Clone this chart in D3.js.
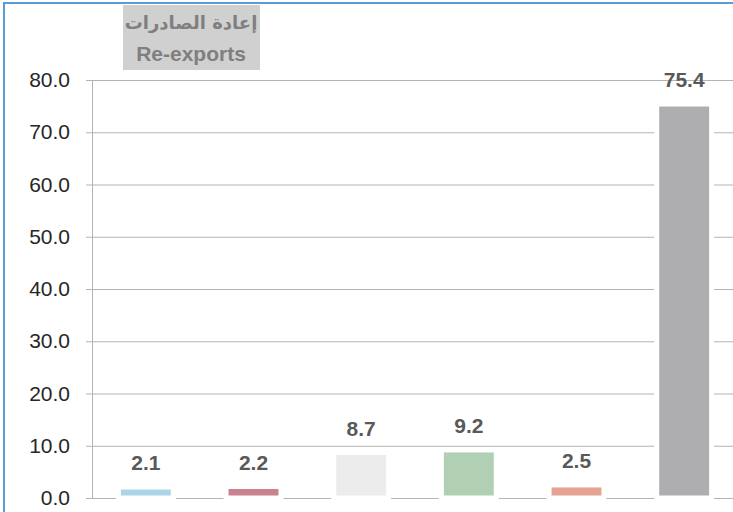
<!DOCTYPE html>
<html>
<head>
<meta charset="utf-8">
<script src="https://cdn.jsdelivr.net/npm/d3@7"></script>
<style>
  body { margin: 0; background: #fff; }
  svg { display: block; }
</style>
</head>
<body>
<div id="chart"></div>
<script>
// Re-exports bar chart

const categories = ["c1", "c2", "c3", "c4", "c5", "c6"];
const values = [2.1, 2.2, 8.7, 9.2, 2.5, 75.4];
const barColors = ["#abd4e6", "#c98290", "#ececec", "#b1cfb3", "#e5a394", "#aeaeb0"];
const yTicks = [0, 10, 20, 30, 40, 50, 60, 70, 80];
const titleAr = "إعادة الصادرات";
const titleEn = "Re-exports";

const w = 733, h = 512;
const x_pad = 92, right = 738;
const y_top = 80, y_bottom = 498;
const gridColor = "#b4b4b4";

const svg = d3.select("#chart").append("svg")
    .attr("width", w)
    .attr("height", h);

// outer chart border
svg.append("rect")
    .attr("x", 4).attr("y", 3)
    .attr("width", 780).attr("height", 560)
    .attr("fill", "none")
    .attr("stroke", "#5b9bd5")
    .attr("stroke-width", 2);

const xScale = d3.scaleBand()
    .domain(categories)
    .range([x_pad, right])
    .paddingInner(0.49)
    .paddingOuter(0.245);

const yScale = d3.scaleLinear()
    .domain([0, 80])
    .range([y_bottom, y_top]);

// grid lines
svg.append("g")
    .attr("transform", "translate(" + x_pad + ",0)")
    .call(d3.axisLeft(yScale).tickValues(yTicks).tickSize(-(w + 40 - x_pad)).tickFormat(""))
    .call(g => g.select(".domain").remove())
    .selectAll("line")
    .attr("stroke", gridColor);

// y axis
const yAxis = svg.append("g")
    .attr("transform", "translate(" + x_pad + ",0)")
    .call(d3.axisLeft(yScale).tickValues(yTicks).tickSize(6).tickSizeOuter(0).tickPadding(16)
        .tickFormat(d => d.toFixed(1)));
yAxis.select(".domain").attr("stroke", gridColor);
yAxis.selectAll("line").attr("stroke", gridColor);
yAxis.selectAll("text")
    .attr("fill", "#262626")
    .style("font-family", "'Liberation Sans', Arial, sans-serif")
    .style("font-size", "21px");

// bars
svg.selectAll("rect.bar")
    .data(values)
    .enter().append("rect")
    .attr("class", "bar")
    .attr("x", (d, i) => xScale(categories[i]))
    .attr("y", d => yScale(d))
    .attr("width", xScale.bandwidth())
    .attr("height", d => y_bottom - yScale(d))
    .attr("fill", (d, i) => barColors[i])
    .attr("stroke", "#ffffff")
    .attr("stroke-width", 5);

// value labels
svg.selectAll("text.val")
    .data(values)
    .enter().append("text")
    .attr("class", "val")
    .attr("x", (d, i) => xScale(categories[i]) + xScale.bandwidth() / 2)
    .attr("y", d => yScale(d) - 17)
    .attr("text-anchor", "middle")
    .attr("fill", "#595959")
    .style("font-family", "'Liberation Sans', Arial, sans-serif")
    .style("font-weight", "bold")
    .style("font-size", "21px")
    .text(d => d.toFixed(1));

// title box
svg.append("rect")
    .attr("x", 123).attr("y", 5)
    .attr("width", 137).attr("height", 65)
    .attr("fill", "#d0d0d0");

svg.append("text")
    .attr("x", 191).attr("y", 29)
    .attr("text-anchor", "middle")
    .attr("fill", "#7f7f7f")
    .style("font-family", "'DejaVu Sans', sans-serif")
    .style("font-weight", "bold")
    .style("font-size", "18px")
    .attr("direction", "rtl")
    .text(titleAr);

svg.append("text")
    .attr("x", 191).attr("y", 61)
    .attr("text-anchor", "middle")
    .attr("fill", "#7f7f7f")
    .style("font-family", "'Liberation Sans', Arial, sans-serif")
    .style("font-weight", "bold")
    .style("font-size", "21px")
    .text(titleEn);
</script>
</body>
</html>
